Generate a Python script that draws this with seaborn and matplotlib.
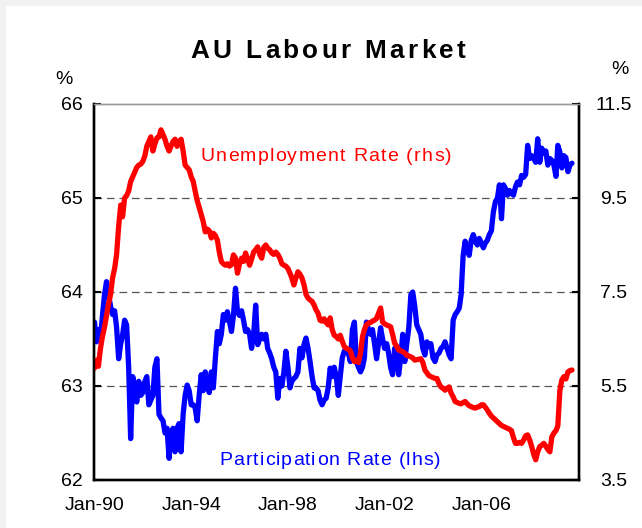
import numpy as np
import pandas as pd
import matplotlib
matplotlib.use("Agg")
import matplotlib.pyplot as plt
import seaborn as sns
from matplotlib import font_manager, ft2font
from matplotlib.patches import Rectangle

# ---------------- data (monthly, Jan-1990 onward) ----------------
start_month = "1990-01-01"
unemployment_rhs = [
    5.88, 6.05, 5.92, 6.30, 6.55, 6.75, 7.00, 7.25, 7.45, 7.80, 8.00, 8.30,        # 1990
    8.90, 9.35, 9.10, 9.50, 9.55, 9.65, 9.85, 9.95, 10.05, 10.15, 10.20, 10.22,    # 1991
    10.28, 10.40, 10.60, 10.70, 10.80, 10.50, 10.65, 10.78, 10.80, 10.95, 10.85, 10.75,  # 1992
    10.60, 10.50, 10.60, 10.70, 10.75, 10.60, 10.70, 10.75, 10.50, 10.20, 10.15, 10.10,  # 1993
    9.95, 9.85, 9.65, 9.45, 9.30, 9.15, 9.00, 8.78, 8.84, 8.80, 8.65, 8.75,        # 1994
    8.70, 8.60, 8.35, 8.15, 8.10, 8.07, 8.10, 8.05, 8.08, 8.29, 8.22, 7.90,        # 1995
    8.10, 8.22, 8.15, 8.33, 8.20, 8.07, 8.20, 8.35, 8.40, 8.46, 8.30, 8.22,        # 1996
    8.45, 8.50, 8.43, 8.40, 8.33, 8.30, 8.35, 8.30, 8.22, 8.10, 8.07, 8.05,        # 1997
    8.00, 7.90, 7.80, 7.65, 7.80, 7.93, 7.88, 7.80, 7.65, 7.45, 7.37, 7.33,        # 1998
    7.30, 7.22, 7.12, 7.05, 6.90, 6.88, 6.93, 6.85, 6.80, 6.95, 6.70, 6.58,        # 1999
    6.55, 6.50, 6.58, 6.45, 6.34, 6.30, 6.28, 6.25, 6.10, 6.02, 6.05, 6.00,        # 2000
    6.20, 6.55, 6.70, 6.80, 6.84, 6.85, 6.88, 6.90, 6.94, 7.05, 7.16, 6.86,        # 2001
    6.82, 6.80, 6.78, 6.76, 6.60, 6.41, 6.35, 6.27, 6.25, 6.23, 6.20, 6.15,        # 2002
    6.14, 6.12, 6.10, 6.05, 6.06, 6.07, 6.08, 6.00, 5.84, 5.78, 5.72, 5.70,        # 2003
    5.68, 5.66, 5.66, 5.55, 5.48, 5.45, 5.41, 5.45, 5.48, 5.35, 5.27, 5.17,        # 2004
    5.15, 5.13, 5.12, 5.15, 5.17, 5.12, 5.08, 5.06, 5.04, 5.03, 5.05, 5.06,        # 2005
    5.10, 5.10, 5.05, 4.99, 4.92, 4.86, 4.82, 4.78, 4.74, 4.70, 4.66, 4.64,        # 2006
    4.62, 4.60, 4.58, 4.55, 4.40, 4.28, 4.28, 4.30, 4.28, 4.35, 4.44, 4.46,        # 2007
    4.35, 4.21, 4.05, 3.93, 4.10, 4.21, 4.24, 4.28, 4.22, 4.15, 4.10, 4.42,        # 2008
    4.50, 4.55, 4.65, 5.40, 5.63, 5.70, 5.65, 5.80, 5.83, 5.84,                    # 2009
]
participation_lhs = [
    63.68, 63.47, 63.60, 63.50, 63.75, 63.97, 64.11, 63.97, 63.85, 63.76, 63.80, 63.62,  # 1990
    63.29, 63.45, 63.54, 63.70, 63.65, 63.20, 62.44, 63.10, 63.00, 62.83, 63.05, 62.90,  # 1991
    62.93, 63.05, 63.10, 62.80, 62.85, 62.90, 63.20, 63.29, 62.70, 62.66, 62.63, 62.50,  # 1992
    62.55, 62.23, 62.50, 62.55, 62.30, 62.55, 62.60, 62.30, 62.70, 62.90, 63.01, 62.95,  # 1993
    62.80, 62.80, 62.77, 62.63, 62.90, 63.12, 62.95, 63.15, 63.00, 62.93, 63.15, 62.98,  # 1994
    63.30, 63.58, 63.45, 63.55, 63.76, 63.70, 63.79, 63.69, 63.58, 63.75, 64.04, 63.79,  # 1995
    63.75, 63.80, 63.70, 63.58, 63.60, 63.55, 63.40, 63.55, 63.86, 63.44, 63.50, 63.55,  # 1996
    63.50, 63.55, 63.40, 63.35, 63.29, 63.20, 63.15, 62.87, 63.08, 63.00, 63.15, 63.37,  # 1997
    63.20, 62.98, 63.05, 63.08, 63.10, 63.15, 63.40, 63.30, 63.44, 63.51, 63.40, 63.26,  # 1998
    63.10, 62.98, 62.98, 62.95, 62.85, 62.80, 62.85, 62.87, 62.98, 63.19, 63.10, 63.20,  # 1999
    63.10, 62.90, 63.10, 63.30, 63.37, 63.40, 63.35, 63.26, 63.60, 63.68, 63.26, 63.20,  # 2000
    63.15, 63.20, 63.30, 63.68, 63.60, 63.55, 63.60, 63.45, 63.29, 63.45, 63.62, 63.50,  # 2001
    63.40, 63.45, 63.35, 63.20, 63.12, 63.40, 63.30, 63.12, 63.30, 63.55, 63.26, 63.45,  # 2002
    63.62, 63.97, 64.00, 63.85, 63.65, 63.60, 63.55, 63.40, 63.33, 63.47, 63.42, 63.45,  # 2003
    63.30, 63.26, 63.33, 63.35, 63.40, 63.42, 63.47, 63.40, 63.33, 63.29, 63.70, 63.76,  # 2004
    63.79, 63.83, 63.97, 64.39, 64.54, 64.45, 64.39, 64.55, 64.61, 64.54, 64.50, 64.57,  # 2005
    64.52, 64.47, 64.52, 64.55, 64.61, 64.65, 64.85, 64.96, 65.00, 65.14, 64.78, 65.14,  # 2006
    65.10, 65.03, 65.08, 65.05, 65.03, 65.12, 65.17, 65.14, 65.24, 65.22, 65.25, 65.56,  # 2007
    65.42, 65.45, 65.42, 65.38, 65.63, 65.38, 65.53, 65.48, 65.50, 65.35, 65.42, 65.40,  # 2008
    65.35, 65.23, 65.56, 65.49, 65.32, 65.45, 65.43, 65.28, 65.35, 65.37,                # 2009
]
x_tick_dates = ["1990-01-01", "1994-01-01", "1998-01-01", "2002-01-01", "2006-01-01"]
x_tick_labels = ["Jan-90", "Jan-94", "Jan-98", "Jan-02", "Jan-06"]
left_ticks = [62, 63, 64, 65, 66]
left_tick_labels = ["62", "63", "64", "65", "66"]
right_ticks = [3.5, 5.5, 7.5, 9.5, 11.5]
right_tick_labels = ["3.5", "5.5", "7.5", "9.5", "11.5"]
title_text = "AU Labour Market"
unemp_label = "Unemployment Rate (rhs)"
part_label = "Participation Rate (lhs)"

# ---------------- figure ----------------
W, H, DPI = 642, 528, 100
sns.set_style("white")
plt.rcParams["font.family"] = ["Liberation Sans", "DejaVu Sans"]
plt.rcParams["lines.scale_dashes"] = False

df = pd.DataFrame({
    "date": pd.date_range(start_month, periods=len(unemployment_rhs), freq="MS"),
    "unemp": unemployment_rhs,
    "part": participation_lhs,
})

fig = plt.figure(figsize=(W / DPI, H / DPI), dpi=DPI, facecolor="#f2f2f2")
fig.patches.append(Rectangle((6 / W, 0), 1 - 6 / W, 1 - 6 / H, transform=fig.transFigure,
                             facecolor="white", edgecolor="none", zorder=-10))

ax = fig.add_axes([94.5 / W, 1 - 480 / H, (579 - 94.5) / W, (480 - 104) / H])
ax2 = ax.twinx()

sns.lineplot(data=df, x="date", y="part", ax=ax, color="#0000ff", linewidth=3.8)
sns.lineplot(data=df, x="date", y="unemp", ax=ax2, color="#ff0000", linewidth=3.8)

ax.set_xlim(pd.Timestamp("1990-01-01"), pd.Timestamp("2010-01-15"))
ax.set_ylim(62, 66)
ax2.set_ylim(3.5, 11.5)

for v in left_ticks[1:-1]:
    ax.axhline(v, color="#555555", lw=0.9, dashes=(5.5, 3.5), zorder=0.5)

ax.set_xticks(pd.to_datetime(x_tick_dates))
ax.set_xticklabels(x_tick_labels)
ax.set_yticks(left_ticks)
ax.set_yticklabels(left_tick_labels)
ax2.set_yticks(right_ticks)
ax2.set_yticklabels(right_tick_labels)
for a in (ax, ax2):
    a.set_xlabel("")
    a.set_ylabel("")

ax.tick_params(axis="y", direction="in", length=5, width=1.5, labelsize=14, pad=16.2, colors="black")
ax.tick_params(axis="x", direction="in", length=6, width=1.5, labelsize=14, pad=12, colors="black")
ax2.tick_params(axis="y", direction="in", length=5, width=1.5, labelsize=14, pad=25.2, colors="black")
for lab in ax.get_yticklabels():
    lab.set_ha("center")
for lab in ax2.get_yticklabels():
    lab.set_ha("center")

for a in (ax, ax2):
    for s in ("left", "bottom", "right"):
        a.spines[s].set_color("black")
        a.spines[s].set_linewidth(1.7)
        a.spines[s].set_visible(True)
    a.spines["top"].set_color("#9a9a9a")
    a.spines["top"].set_linewidth(1.0)
    a.spines["top"].set_visible(True)


# ---------------- letter-spaced text helper ----------------
def tracked_text(s, cx, baseline_img_y, size, tracking, color, weight="normal"):
    fp = font_manager.FontProperties(family="Liberation Sans", weight=weight)
    path = font_manager.findfont(fp)
    try:
        f = ft2font.FT2Font(path, hinting_factor=1)
        f.set_size(size, DPI)
        advs = [f.load_char(ord(c)).linearHoriAdvance / 65536.0 for c in s]
    except Exception:
        advs = [0.55 * size * DPI / 72.0 for c in s]
    total = sum(advs) + tracking * (len(s) - 1)
    x = cx - total / 2.0
    y = H - baseline_img_y
    for c, a in zip(s, advs):
        if c != " ":
            fig.text(x / W, y / H, c, fontproperties=fp, fontsize=size, color=color,
                     ha="left", va="baseline")
        x += a + tracking


tracked_text(title_text, 328, 57.5, 18.8, 3.4, "black", weight="bold")
tracked_text(unemp_label, 326, 161, 14, 1.5, "#ff0000")
tracked_text(part_label, 330, 465, 14, 1.25, "#0000ff")

fig.text(64 / W, 1 - 80 / H, "%", ha="center", va="center", fontsize=14, color="black")
fig.text(620 / W, 1 - 70 / H, "%", ha="center", va="center", fontsize=14, color="black")

fig.savefig("out.png", dpi=DPI, facecolor=fig.get_facecolor())
